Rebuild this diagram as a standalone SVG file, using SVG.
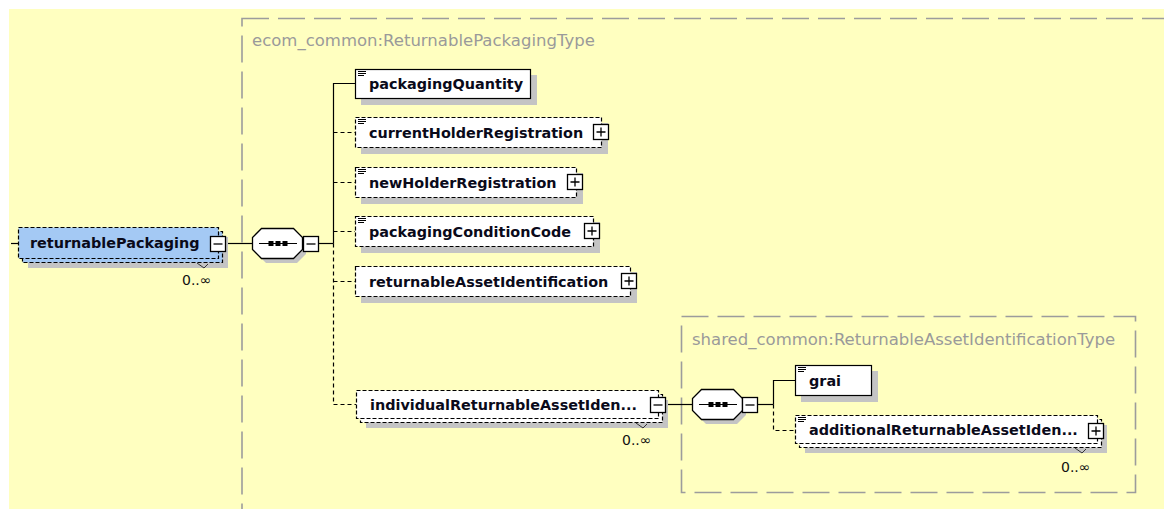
<svg xmlns="http://www.w3.org/2000/svg" xmlns:xlink="http://www.w3.org/1999/xlink" width="1164" height="509" viewBox="0 0 1164 509">
<style>
.bg{fill:#FFFFC0}
.typebox{fill:none;stroke:#9c9c9c;stroke-width:1.6;stroke-dasharray:27,9}
.typetitle{font-family:"DejaVu Sans",sans-serif;font-size:16.5px;fill:#9a9a9a}
.shadow{fill:#c4c4c4}
.el{fill:#fff;stroke:#000;stroke-width:1.2}
.opt{fill:#fff;stroke:#000;stroke-width:1.2;stroke-dasharray:4,2}
.root{fill:#A4C9F4;stroke:#000;stroke-width:1.2;stroke-dasharray:4,2}
.lbl{font-family:"DejaVu Sans",sans-serif;font-weight:bold;font-size:14.4px;fill:#0a0a1a}
.occ{font-family:"DejaVu Sans",sans-serif;font-size:14px;fill:#111}
.ln{fill:none;stroke:#000;stroke-width:1.2}
.dl{fill:none;stroke:#000;stroke-width:1.2;stroke-dasharray:4,3}
.tick{fill:none;stroke:#333;stroke-width:1}
.btn{fill:#fff;stroke:#000;stroke-width:1.3}
.seq{fill:#fff;stroke:#000;stroke-width:1.3}
</style>
<defs>
<g id="doc"><path d="M0,0.5H8M0,2.5H8M0,4.5H6" stroke="#000" stroke-width="1" fill="none"/></g>
<g id="minus"><rect class="btn" x="0.5" y="0.5" width="15" height="15"/><path d="M3.5,8H12.5" stroke="#000" stroke-width="1.3"/></g>
<g id="plus"><rect class="btn" x="0.5" y="0.5" width="15" height="15"/><path d="M3.5,8H12.5M8,3.5V12.5" stroke="#000" stroke-width="1.3"/></g>
<g id="seqshape">
<polygon points="5,5 14,5 45,5 54,14 54,26 45,35 14,35 5,26 5,14" class="shadow"/>
<polygon points="9.5,0.5 41.5,0.5 50.5,9.5 50.5,21.5 41.5,30.5 9.5,30.5 0.5,21.5 0.5,9.5" class="seq"/>
<path d="M7,15.5H45" stroke="#000" stroke-width="1.2"/>
<rect x="16.5" y="13" width="5" height="5" fill="#000"/><rect x="23.5" y="13" width="5" height="5" fill="#000"/><rect x="30.5" y="13" width="5" height="5" fill="#000"/>
</g>
</defs>
<rect x="0" y="0" width="1164" height="509" fill="#fff"/>
<rect class="bg" x="9" y="9" width="1155" height="500"/>

<g id="type-outer">
<rect class="typebox" x="242" y="18.5" width="960" height="520"/>
<text class="typetitle" x="252" y="46">ecom_common:ReturnablePackagingType</text>
</g>
<g id="type-inner">
<rect class="typebox" x="681.5" y="316.5" width="454" height="176"/>
<text class="typetitle" x="692" y="345">shared_common:ReturnableAssetIdentificationType</text>
</g>

<g id="connectors">
<path class="ln" d="M11,243.5H18"/>
<path class="ln" d="M226,243.5H252"/>
<path class="ln" d="M319,243.5H333.5"/>
<path class="ln" d="M355,83.5H333.5V243.5"/>
<path class="dl" d="M333.5,243.5V404.5H356"/>
<path class="dl" d="M333.5,132.5H355"/>
<path class="dl" d="M333.5,182.5H355"/>
<path class="dl" d="M333.5,231.5H355"/>
<path class="dl" d="M333.5,281.5H355"/>
<path class="ln" d="M666,404.5H692"/>
<path class="ln" d="M758,404.5H773.5"/>
<path class="ln" d="M795,380.5H773.5V404.5"/>
<path class="dl" d="M773.5,404.5V430.5H795"/>
</g>

<g id="returnablePackaging">
<rect class="shadow" x="28" y="237" width="200" height="31"/>
<rect class="root" x="22.5" y="231.5" width="200" height="31"/>
<rect class="root" x="18.5" y="227.5" width="200" height="31"/>
<text class="lbl" x="30" y="248">returnablePackaging</text>
<use href="#minus" x="210" y="236"/>
<path class="tick" d="M197,263L204,268L208,264"/>
<text class="occ" x="182" y="285">0..∞</text>
</g>

<g id="sequence1"><use href="#seqshape" x="252" y="228"/><use href="#minus" x="303" y="236"/></g>

<g id="packagingQuantity">
<rect class="shadow" x="361" y="75" width="176" height="30"/>
<rect class="el" x="355.5" y="69.5" width="175" height="29"/>
<use href="#doc" x="358" y="71"/>
<text class="lbl" x="369" y="89">packagingQuantity</text>
</g>

<g id="currentHolderRegistration">
<rect class="shadow" x="361" y="123" width="247" height="31"/>
<rect class="opt" x="355.5" y="117.5" width="246" height="30"/>
<use href="#doc" x="358" y="119"/>
<text class="lbl" x="369" y="138">currentHolderRegistration</text>
<use href="#plus" x="593" y="124"/>
</g>

<g id="newHolderRegistration">
<rect class="shadow" x="361" y="173" width="222" height="31"/>
<rect class="opt" x="355.5" y="167.5" width="221" height="30"/>
<use href="#doc" x="358" y="169"/>
<text class="lbl" x="369" y="188">newHolderRegistration</text>
<use href="#plus" x="567" y="174"/>
</g>

<g id="packagingConditionCode">
<rect class="shadow" x="361" y="222" width="239" height="31"/>
<rect class="opt" x="355.5" y="216.5" width="238" height="30"/>
<use href="#doc" x="358" y="218"/>
<text class="lbl" x="369" y="237">packagingConditionCode</text>
<use href="#plus" x="584" y="223"/>
</g>

<g id="returnableAssetIdentification">
<rect class="shadow" x="361" y="272" width="276" height="31"/>
<rect class="opt" x="355.5" y="266.5" width="275" height="30"/>
<text class="lbl" x="369" y="287">returnableAssetIdentification</text>
<use href="#plus" x="621" y="273"/>
</g>

<g id="individualReturnableAssetIdentification">
<rect class="shadow" x="366" y="400" width="302" height="28"/>
<rect class="opt" x="360.5" y="394.5" width="302" height="28"/>
<rect class="opt" x="356.5" y="390.5" width="302" height="28"/>
<text class="lbl" x="370" y="410">individualReturnableAssetIden...</text>
<use href="#minus" x="650" y="397"/>
<path class="tick" d="M636,423L643,428L647,424"/>
<text class="occ" x="622" y="445">0..∞</text>
</g>

<g id="sequence2"><use href="#seqshape" x="692" y="389"/><use href="#minus" x="742" y="397"/></g>

<g id="grai">
<rect class="shadow" x="801" y="371" width="77" height="31"/>
<rect class="el" x="795.5" y="365.5" width="76" height="30"/>
<use href="#doc" x="798" y="367"/>
<text class="lbl" x="809" y="386">grai</text>
</g>

<g id="additionalReturnableAssetIdentification">
<rect class="shadow" x="805" y="425" width="302" height="28"/>
<rect class="opt" x="799.5" y="419.5" width="302" height="28"/>
<rect class="opt" x="795.5" y="415.5" width="302" height="28"/>
<use href="#doc" x="798" y="417"/>
<text class="lbl" x="809" y="435">additionalReturnableAssetIden...</text>
<use href="#plus" x="1088" y="423"/>
<path class="tick" d="M1075,448L1082,453L1086,449"/>
<text class="occ" x="1061" y="472">0..∞</text>
</g>
</svg>
